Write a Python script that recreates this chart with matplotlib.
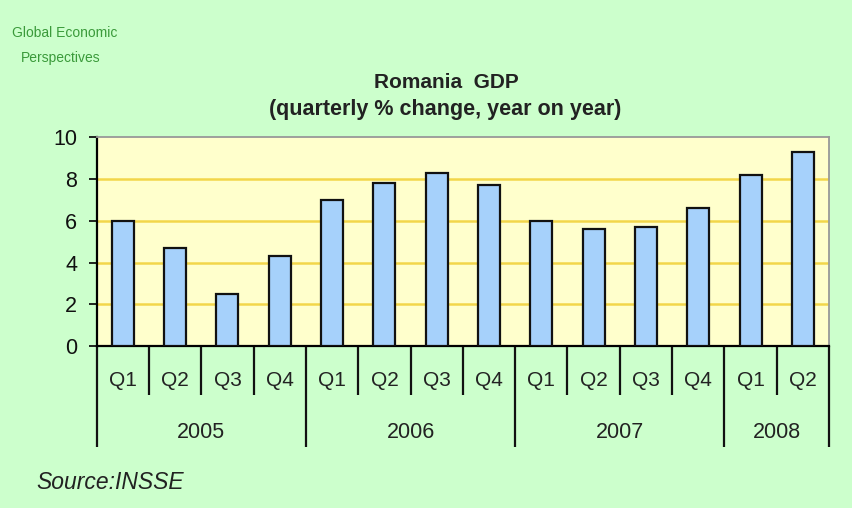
import matplotlib
matplotlib.use("Agg")
from matplotlib import pyplot as plt
import matplotlib.transforms as mtransforms
import numpy as np

plt.rcParams['font.family'] = ['Liberation Sans', 'DejaVu Sans']

quarters = ["Q1", "Q2", "Q3", "Q4", "Q1", "Q2", "Q3", "Q4",
            "Q1", "Q2", "Q3", "Q4", "Q1", "Q2"]
years = ["2005", "2006", "2007", "2008"]
quarters_per_year = [4, 4, 4, 2]
gdp = [6.0, 4.7, 2.5, 4.3, 7.0, 7.8, 8.3, 7.7, 6.0, 5.6, 5.7, 6.6, 8.2, 9.3]

bg = "#ccffcc"
fig = plt.figure(figsize=(8.52, 5.08), dpi=100, facecolor=bg)
ax = fig.add_axes([0.1135, 0.3189, 0.8595, 0.4108])
ax.set_facecolor("#ffffcc")

x = np.arange(len(gdp))
ax.bar(x, gdp, 0.42, color="#a6d1fb", edgecolor="#111111", linewidth=1.6, zorder=3)

ax.set_xlim(-0.5, len(gdp) - 0.5)
ax.set_ylim(0, 10)
ax.set_yticks(np.arange(0, 11, 2))
for v in [2, 4, 6, 8]:
    ax.axhline(v, color="#f2d64a", linewidth=1.8, zorder=1)

ax.tick_params(axis="y", direction="out", length=6, width=1.3, labelsize=15.5,
               colors="#111111", pad=8)
ax.set_xticks([])
for s in ["top", "right"]:
    ax.spines[s].set_color("#999999")
    ax.spines[s].set_linewidth(1.3)
ax.spines["left"].set_linewidth(1.6)
ax.spines["bottom"].set_linewidth(1.6)

# category axis: quarter labels, year labels, separators
trans = mtransforms.blended_transform_factory(ax.transData, ax.transAxes)
year_edges = np.concatenate([[0], np.cumsum(quarters_per_year)]) - 0.5
for b in np.arange(len(gdp) + 1) - 0.5:
    low = -0.484 if b in year_edges else -0.235
    ax.plot([b, b], [0, low], transform=trans, color="#111111", lw=1.6,
            clip_on=False, solid_capstyle="butt")
for xi, q in zip(x, quarters):
    ax.text(xi, -0.163, q, transform=trans, ha="center", va="center",
            fontsize=15, color="#222222")
for i, yr in enumerate(years):
    mid = (year_edges[i] + year_edges[i + 1]) / 2
    ax.text(mid, -0.415, yr, transform=trans, ha="center", va="center",
            fontsize=15.5, color="#222222")

fig.text(0.524, 0.838, "Romania  GDP", ha="center", va="center",
         fontsize=15, fontweight="bold", color="#222222")
fig.text(0.522, 0.784, "(quarterly % change, year on year)", ha="center",
         va="center", fontsize=15.5, fontweight="bold", color="#222222")
logo_font = ['Liberation Sans Narrow', 'Liberation Sans', 'DejaVu Sans']
fig.text(0.014, 0.935, "Global Economic", fontsize=10, color="#3a9a3a",
         va="center", ha="left", family=logo_font)
fig.text(0.024, 0.886, "Perspectives", fontsize=10, color="#3a9a3a",
         va="center", ha="left", family=logo_font)
fig.text(0.043, 0.051, "Source:INSSE", fontsize=16.5, style="italic",
         color="#222222", va="center", ha="left")

fig.savefig("out.png", dpi=100, facecolor=bg)
